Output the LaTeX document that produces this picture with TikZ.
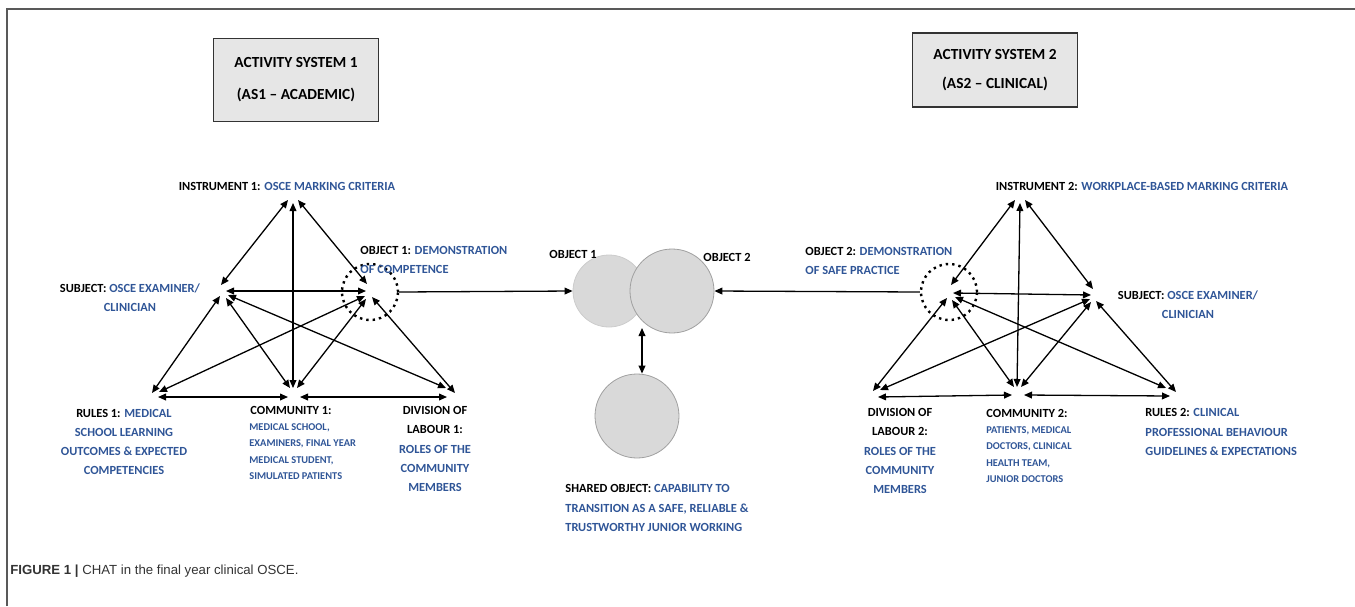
\documentclass[tikz,border=0pt]{standalone}
\usepackage{fontspec}
\setmainfont{Carlito}
\newfontfamily\capfont{Liberation Sans}
\usetikzlibrary{arrows.meta}
\definecolor{lblue}{HTML}{2F5597}
\definecolor{boxgray}{HTML}{E6E6E6}
\definecolor{circfill}{HTML}{D9D9D9}
\definecolor{circline}{HTML}{A0A0A0}
\definecolor{framegray}{HTML}{595959}
\definecolor{capgray}{HTML}{333333}
\newcommand\blu[1]{\textcolor{lblue}{#1}}
\begin{document}
\begin{tikzpicture}[x=0.5pt,y=-0.5pt,
  lbl/.style={font=\bfseries\fontsize{6.2}{9.6}\selectfont, inner sep=0pt, align=center},
  lblL/.style={font=\bfseries\fontsize{6.2}{9.6}\selectfont, inner sep=0pt, align=left},
  small/.style={font=\bfseries\fontsize{5.2}{8.2}\selectfont, inner sep=0pt, align=left, text=lblue},
  conn/.style={{Triangle[length=4pt,width=3.4pt]}-{Triangle[length=4pt,width=3.4pt]}, line width=0.65pt},
  sarrow/.style={-{Triangle[length=4pt,width=3.4pt]}, line width=0.65pt},
  titlebox/.style={draw=black!80, fill=boxgray, line width=0.6pt, minimum width=82.5pt, inner sep=0pt, font=\bfseries\fontsize{7.7}{16}\selectfont, align=center},
  dotc/.style={draw, dotted, line width=1.2pt, circle, minimum size=28pt, inner sep=0pt},
  gcirc/.style={draw=circline, fill=circfill, circle, line width=0.4pt, inner sep=0pt}
]
\useasboundingbox (0,0) rectangle (1355,606);
\draw[framegray, line width=1pt] (7,606) -- (7,9) -- (1355,9);

% title boxes
\node[titlebox, minimum height=41.5pt] (T1) at (296,80) {ACTIVITY SYSTEM 1\\(AS1 -- ACADEMIC)};
\node[titlebox, minimum height=37pt, font=\bfseries\fontsize{7.7}{14.5}\selectfont] (T2) at (995,70) {ACTIVITY SYSTEM 2\\(AS2 -- CLINICAL)};

% ---------- AS1 ----------
\coordinate (I1) at (293,200);
\coordinate (S1) at (222,292);
\coordinate (O1) at (368,292);
\coordinate (R1) at (152,395);
\coordinate (C1) at (293,392);
\coordinate (D1) at (450,393);
\node[dotc] (DC1) at (370,292) {};

\draw[conn] ([shift={(-5,0)}]I1) -- ([shift={(-1,-7)}]S1);
\draw[conn] ([shift={(5,0)}]I1) -- ([shift={(-1,-8)}]O1);
\draw[conn] ([shift={(0,3)}]I1) -- ([shift={(0,-4)}]C1);
\draw[conn] ([shift={(4,-1)}]S1) -- ([shift={(-2,-1)}]O1);
\draw[conn] ([shift={(-2,4)}]S1) -- ([shift={(0,-2)}]R1);
\draw[conn] ([shift={(4,6)}]S1) -- ([shift={(-3,-4)}]C1);
\draw[conn] ([shift={(6,3)}]S1) -- ([shift={(-4,-5)}]D1);
\draw[conn] ([shift={(-3,4)}]O1) -- ([shift={(7,-3)}]R1);
\draw[conn] ([shift={(-2,7)}]O1) -- ([shift={(4,-4)}]C1);
\draw[conn] ([shift={(4,5)}]O1) -- ([shift={(5,0)}]D1);
\draw[conn] ([shift={(6,2)}]R1) -- ([shift={(-5,5)}]C1);
\draw[conn] ([shift={(7,5)}]C1) -- ([shift={(-3,4)}]D1);

\node[lbl] (LI1) at (287,186) {INSTRUMENT 1: \blu{OSCE MARKING CRITERIA}};
\node[lbl] (LS1) at (130,297.5) {SUBJECT: \blu{OSCE EXAMINER/}\\\blu{CLINICIAN}};
\node[lblL, anchor=west] (LO1) at (360,260) {OBJECT 1: \blu{DEMONSTRATION}\\\blu{OF COMPETENCE}};
\node[lbl] (LR1) at (124,442) {RULES 1: \blu{MEDICAL}\\\blu{SCHOOL LEARNING}\\\blu{OUTCOMES \& EXPECTED}\\\blu{COMPETENCIES}};
\node[lblL, anchor=west] (LC1) at (250,410) {COMMUNITY 1:};
\node[small, anchor=north west] (LC1b) at (249,423) {MEDICAL SCHOOL,\\EXAMINERS, FINAL YEAR\\MEDICAL STUDENT,\\SIMULATED PATIENTS};
\node[lbl] (LD1) at (435,449) {DIVISION OF\\LABOUR 1:\\\blu{ROLES OF THE}\\\blu{COMMUNITY}\\\blu{MEMBERS}};

% ---------- AS2 ----------
\coordinate (I2) at (1020,200);
\coordinate (O2) at (950,293);
\coordinate (S2) at (1093,295);
\coordinate (D2) at (873,393);
\coordinate (C2) at (1017,391);
\coordinate (R2) at (1172,392);
\node[dotc] (DC2) at (949,292) {};

\draw[conn] ([shift={(-5,0)}]I2) -- ([shift={(1,-8)}]O2);
\draw[conn] ([shift={(5,0)}]I2) -- ([shift={(0,-6)}]S2);
\draw[conn] ([shift={(0,3)}]I2) -- ([shift={(0,-4)}]C2);
\draw[conn] ([shift={(3,0)}]O2) -- ([shift={(-2,0)}]S2);
\draw[conn] ([shift={(-3,5)}]O2) -- ([shift={(0,-2)}]D2);
\draw[conn] ([shift={(2,7)}]O2) -- ([shift={(-3,-4)}]C2);
\draw[conn] ([shift={(5,4)}]O2) -- ([shift={(-6,-4)}]R2);
\draw[conn] ([shift={(-3,4)}]S2) -- ([shift={(7,-3)}]D2);
\draw[conn] ([shift={(-2,7)}]S2) -- ([shift={(4,-4)}]C2);
\draw[conn] ([shift={(3,6)}]S2) -- ([shift={(4,0)}]R2);
\draw[conn] ([shift={(5,4)}]D2) -- ([shift={(-5,4)}]C2);
\draw[conn] ([shift={(7,4)}]C2) -- ([shift={(-2,4)}]R2);

\node[lbl] (LI2) at (1142,186) {INSTRUMENT 2: \blu{WORKPLACE-BASED MARKING CRITERIA}};
\node[lblL, anchor=west] (LO2) at (805,261) {OBJECT 2: \blu{DEMONSTRATION}\\\blu{OF SAFE PRACTICE}};
\node[lbl] (LS2) at (1188,305) {SUBJECT: \blu{OSCE EXAMINER/}\\\blu{CLINICIAN}};
\node[lbl] (LD2) at (900,451) {DIVISION OF\\LABOUR 2:\\\blu{ROLES OF THE}\\\blu{COMMUNITY}\\\blu{MEMBERS}};
\node[lblL, anchor=west] (LC2) at (986,413) {COMMUNITY 2:};
\node[small, anchor=north west] (LC2b) at (986,426) {PATIENTS, MEDICAL\\DOCTORS, CLINICAL\\HEALTH TEAM,\\JUNIOR DOCTORS};
\node[lblL, anchor=west] (LR2) at (1145,432) {RULES 2: \blu{CLINICAL}\\\blu{PROFESSIONAL BEHAVIOUR}\\\blu{GUIDELINES \& EXPECTATIONS}};

% ---------- shared object ----------
\node[gcirc, draw=circfill!85!gray, minimum size=36pt] (G1) at (609,291) {};
\node[gcirc, minimum size=42pt] (G2) at (672,291) {};
\node[gcirc, minimum size=42pt] (G3) at (637,416) {};
\coordinate (J) at (642,328);
\draw[sarrow] (DC1.east) -- (G1.west);
\draw[sarrow] (DC2.west) -- (G2.east);
\draw[conn] (J) -- (J |- G3.north);
\node[lbl] (LG1) at (573,254) {OBJECT 1};
\node[lbl] (LG2) at (727,257) {OBJECT 2};
\node[lblL, anchor=west] (LSH) at (565,508) {SHARED OBJECT: \blu{CAPABILITY TO}\\\blu{TRANSITION AS A SAFE, RELIABLE \&}\\\blu{TRUSTWORTHY JUNIOR WORKING}};

% caption
\node[anchor=west, inner sep=0pt, text=capgray, font=\capfont\fontsize{6.6}{8}\selectfont] (CAP) at (10,571) {\textbf{FIGURE 1 |} CHAT in the final year clinical OSCE.};
\end{tikzpicture}
\end{document}
